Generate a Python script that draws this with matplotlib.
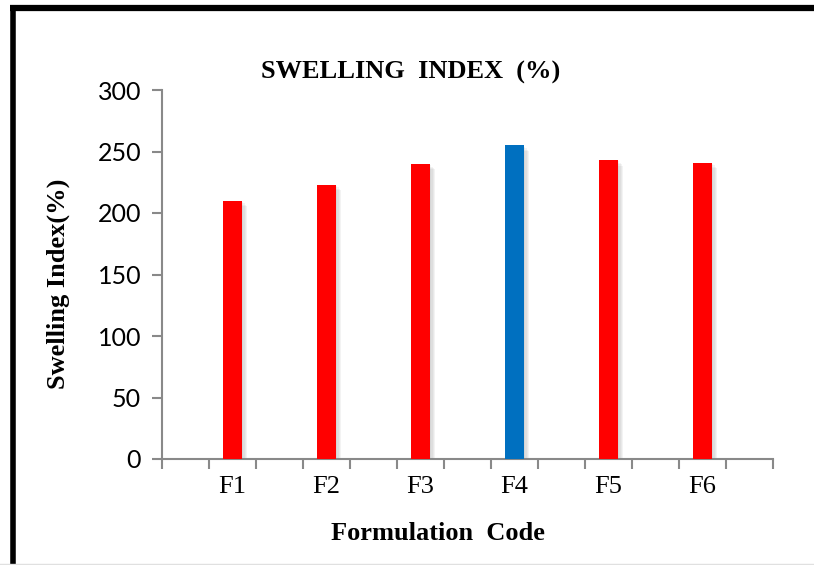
import numpy as np
import matplotlib.pyplot as plt
from matplotlib import patheffects
from matplotlib.lines import Line2D

codes = ["F1", "F2", "F3", "F4", "F5", "F6"]
swelling = [210, 223, 240, 255, 243, 241]
bar_colors = ["#FF0000", "#FF0000", "#FF0000", "#0070C0", "#FF0000", "#FF0000"]
y_ticks = [0, 50, 100, 150, 200, 250, 300]

fig = plt.figure(figsize=(8.14, 5.65), dpi=100)
ax = fig.add_axes([162 / 814, 1 - 459 / 565, (773 - 162) / 814, (459 - 90) / 565])

# bars sit in every other slot of a 13-slot category axis
pos = np.arange(len(codes)) * 2 + 1.5
# soft drop shadow built from a few faint offset copies
shadow = [patheffects.SimplePatchShadow(offset=(d, -d), shadow_rgbFace="#808080", alpha=0.09)
          for d in (1, 2, 3, 4)] + [patheffects.Normal()]
bars = ax.bar(pos, swelling, width=0.4, color=bar_colors, zorder=3)
for b in bars:
    b.set_path_effects(shadow)

ax.set_xlim(0, 13)
ax.set_ylim(0, 300)

axis_grey = "#898989"
for side in ["top", "right"]:
    ax.spines[side].set_visible(False)
for side in ["left", "bottom"]:
    ax.spines[side].set_color(axis_grey)
    ax.spines[side].set_linewidth(1.5)

ax.set_xticks(np.arange(0, 14))
ax.set_xticklabels([])
ax.set_xticks(pos, minor=True)
ax.set_xticklabels(codes, minor=True, fontfamily="Liberation Serif", fontsize=19)
ax.tick_params(axis="x", which="major", length=7, width=1.5, color=axis_grey)
ax.tick_params(axis="x", which="minor", length=0, pad=12)

ax.set_yticks(y_ticks)
ax.set_yticklabels([str(v) for v in y_ticks], fontfamily="Lato", fontsize=18)
ax.tick_params(axis="y", length=7, width=1.5, color=axis_grey, pad=8)

fig.text(411 / 814, 1 - 72 / 565, "SWELLING  INDEX  (%)", ha="center", va="center",
         fontfamily="Liberation Serif", fontweight="bold", fontsize=19)
fig.text(438 / 814, 1 - 534 / 565, "Formulation  Code", ha="center", va="center",
         fontfamily="Liberation Serif", fontweight="bold", fontsize=19)
fig.text(58 / 814, 1 - 284 / 565, "Swelling Index(%)", ha="center", va="center",
         rotation=90, fontfamily="Liberation Serif", fontweight="bold", fontsize=19)

# frame lines along the top and left edge
fig.add_artist(Line2D([10 / 814, 1], [1 - 8 / 565, 1 - 8 / 565], color="black", lw=4.5,
                      transform=fig.transFigure, solid_capstyle="butt"))
fig.add_artist(Line2D([12.5 / 814, 12.5 / 814], [0, 1 - 5 / 565], color="black", lw=4,
                      transform=fig.transFigure, solid_capstyle="butt"))
fig.add_artist(Line2D([0, 1], [1.5 / 565, 1.5 / 565], color="#e0e0e0", lw=1,
                      transform=fig.transFigure))

fig.savefig("out.png", dpi=100)
